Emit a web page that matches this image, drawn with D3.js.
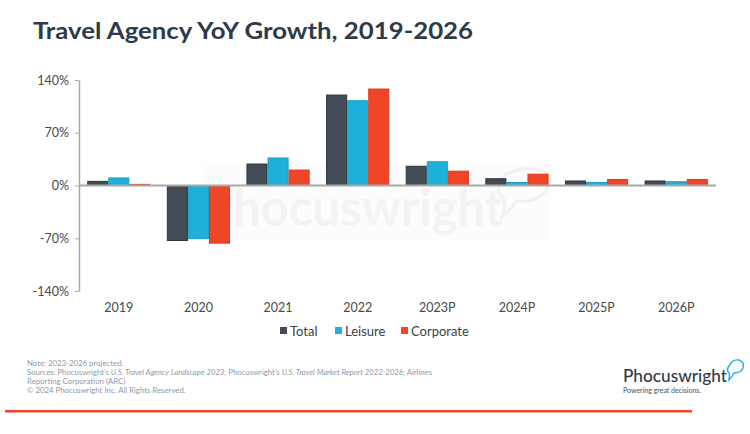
<!DOCTYPE html>
<html><head><meta charset="utf-8">
<script src="https://cdn.jsdelivr.net/npm/d3@7"></script>
<style>body{margin:0;background:#fff;}svg{display:block;font-family:Lato,"Noto Sans",sans-serif;}</style>
</head><body><svg id="c" width="750" height="434"></svg>
<script>
const categories = ["2019","2020","2021","2022","2023P","2024P","2025P","2026P"];
const seriesNames = ["Total","Leisure","Corporate"];
const total = [5.5, -73, 28.5, 120, 25.5, 9, 6, 6];
const leisure = [10, -70.5, 36.5, 112.5, 31.5, 4, 4, 5];
const corporate = [1.5, -76.5, 20.5, 128, 19, 15, 8, 8];
const yTicks = [-140, -70, 0, 70, 140];
const colors = ["#434c56","#1eb0da","#f04628"];
const strokes = ["#2e353d","#17a0c9","#e3361a"];
const seriesValues = [total, leisure, corporate];

const svg = d3.select("#c");
const x0 = d3.scaleBand().domain(categories).range([79, 716]).padding(0);
const x1 = d3.scaleBand().domain(seriesNames).range([0, x0.bandwidth()]).paddingInner(0).paddingOuter(0.39);
const y = d3.scaleLinear().domain([-140, 140]).range([291, 80]);

// title
svg.append("text").attr("x", 33).attr("y", 39).text("Travel Agency YoY Growth, 2019-2026")
  .attr("font-size", 23.5).attr("font-weight", 700).attr("fill", "#2e3a47")
  .attr("textLength", 440).attr("lengthAdjust", "spacingAndGlyphs");

// watermark
const wm = svg.append("g");
wm.append("rect").attr("x", 203).attr("y", 165).attr("width", 347).attr("height", 75).attr("fill", "#fcfcfc");
wm.append("text").attr("x", 203).attr("y", 226).text("Phocuswright").attr("font-size", 52).attr("font-weight", 700)
  .attr("fill", "#f3f3f3").attr("textLength", 300).attr("lengthAdjust", "spacingAndGlyphs");
wm.append("path").attr("d", "M505,175 q22,-12 40,-2 q10,10 -3,22 q-10,8 -26,6 q-6,10 -14,16 q4,-10 2,-18 q-12,-10 1,-24z")
  .attr("fill", "none").attr("stroke", "#f1f1f1").attr("stroke-width", 3);

// y axis
const yAxis = d3.axisLeft(y).tickValues(yTicks).tickFormat(d => d + "%").tickSize(4).tickSizeOuter(0);
const ga = svg.append("g").attr("transform", "translate(79,0)").call(yAxis);
ga.select(".domain").attr("stroke", "#a8a8a8").attr("stroke-width", 1.5);
ga.selectAll(".tick line").attr("stroke", "#a8a8a8");
ga.selectAll(".tick text").attr("font-size", 12.5).attr("fill", "#4a4a4a").attr("x", -10).attr("font-family", "Lato, sans-serif");

// bars
const groups = svg.append("g").selectAll("g").data(categories).join("g")
  .attr("transform", d => `translate(${x0(d)},0)`);
groups.selectAll("rect").data((d, i) => seriesNames.map((s, j) => ({s, j, v: seriesValues[j][i]}))).join("rect")
  .attr("x", d => x1(d.s) + 0.5).attr("width", x1.bandwidth() - 1)
  .attr("y", d => y(Math.max(0, d.v))).attr("height", d => Math.abs(y(d.v) - y(0)))
  .attr("fill", d => colors[d.j]).attr("stroke", d => strokes[d.j]).attr("stroke-width", 1);

// zero line
svg.append("line").attr("x1", 79).attr("x2", 716).attr("y1", y(0)).attr("y2", y(0))
  .attr("stroke", "#a8a8a8").attr("stroke-width", 2);

// x labels
const xAxis = d3.axisBottom(x0).tickSize(0);
const gx = svg.append("g").attr("transform", "translate(0,300)").call(xAxis);
gx.select(".domain").remove();
gx.selectAll(".tick text").attr("font-size", 12.5).attr("fill", "#4a4a4a").attr("font-family", "Lato, sans-serif");

// legend
const legX = [280, 335, 401];
const lg = svg.append("g").selectAll("g").data(seriesNames).join("g")
  .attr("transform", (d, i) => `translate(${legX[i]},331)`);
lg.append("rect").attr("x", 0).attr("y", -4).attr("width", 7).attr("height", 7).attr("fill", (d, i) => colors[i]);
lg.append("text").attr("x", 10).attr("y", 4.5).text(d => d).attr("font-size", 13).attr("fill", "#3a3f45");

// footnotes
const notes = svg.append("g").attr("font-size", 7.8).attr("fill", "#8d99a8");
notes.append("text").attr("x", 27).attr("y", 366).text("Note: 2023-2026 projected.");
const s2 = notes.append("text").attr("x", 27).attr("y", 375).attr("textLength", 405).attr("lengthAdjust", "spacingAndGlyphs");
s2.append("tspan").text("Sources: Phocuswright\u2019s ");
s2.append("tspan").attr("font-style", "italic").text("U.S. Travel Agency Landscape 2023");
s2.append("tspan").text("; Phocuswright\u2019s ");
s2.append("tspan").attr("font-style", "italic").text("U.S. Travel Market Report 2022-2026");
s2.append("tspan").text("; Airlines");
notes.append("text").attr("x", 27).attr("y", 384).text("Reporting Corporation (ARC)");
notes.append("text").attr("x", 27).attr("y", 393).text("\u00A9 2024 Phocuswright Inc. All Rights Reserved.");

// red rule
svg.append("rect").attr("x", 5).attr("y", 410).attr("width", 687).attr("height", 2.5).attr("fill", "#ef4527");

// logo
svg.append("text").attr("x", 623).attr("y", 382).text("Phocuswright").attr("font-size", 18)
  .attr("fill", "#2e3a47").attr("font-weight", 500).attr("textLength", 104).attr("lengthAdjust", "spacingAndGlyphs");
svg.append("path").attr("d", "M729,366 q3,-7 10,-6 q6,2 4,8 q-2,5 -9,5 q-2,4 -5,7 q1,-4 0,-7 q-3,-3 0,-7z")
  .attr("fill", "none").attr("stroke", "#1eb0da").attr("stroke-width", 1.4);
svg.append("text").attr("x", 623).attr("y", 393).text("Powering great decisions.").attr("font-size", 7)
  .attr("fill", "#4a4f55");
</script></body></html>
